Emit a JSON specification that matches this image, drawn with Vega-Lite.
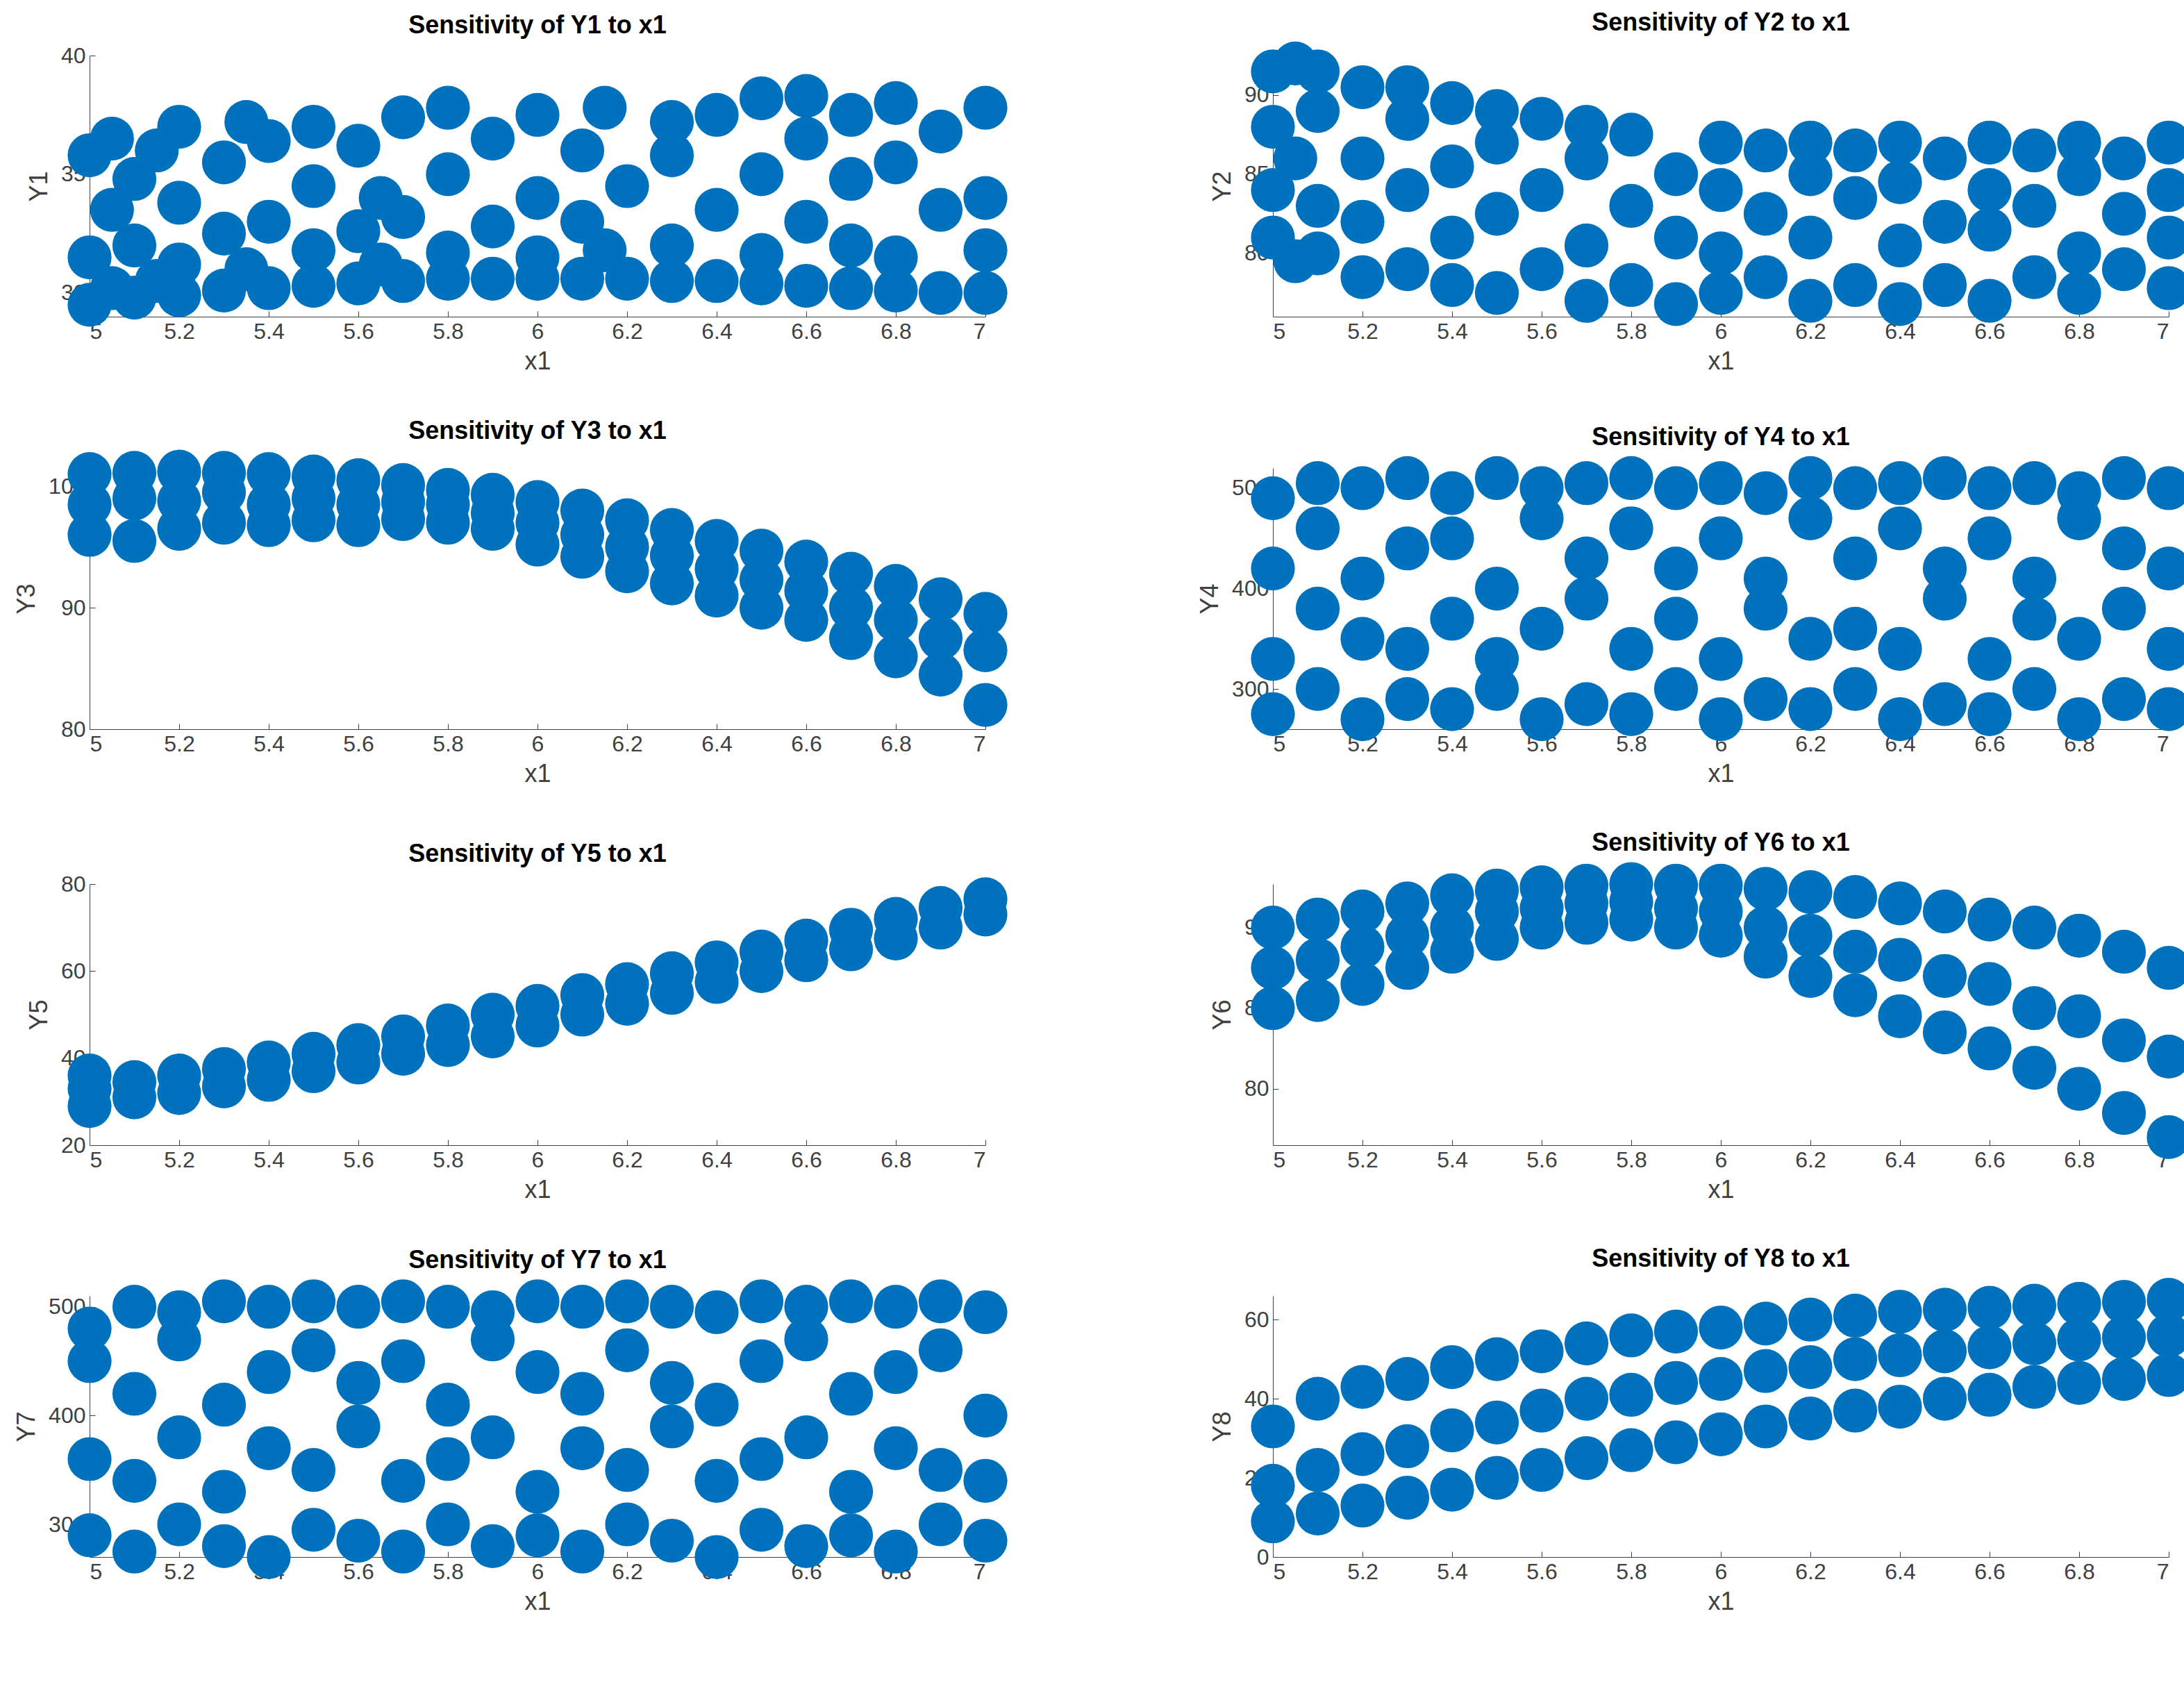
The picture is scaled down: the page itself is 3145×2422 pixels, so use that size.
{
  "$schema": "https://vega.github.io/schema/vega-lite/v6.json",
  "background": "white",
  "padding": {"left": 20, "top": 14, "right": 20, "bottom": 10},
  "columns": 2,
  "spacing": {"column": 273, "row": 64},
  "data": {"values": [
    {"p":"Y1","x":5.0,"y":29.5},{"p":"Y1","x":5.0,"y":31.5},{"p":"Y1","x":5.0,"y":35.8},
    {"p":"Y1","x":5.05,"y":30.2},{"p":"Y1","x":5.05,"y":33.5},{"p":"Y1","x":5.05,"y":36.5},
    {"p":"Y1","x":5.1,"y":29.8},{"p":"Y1","x":5.1,"y":32},{"p":"Y1","x":5.1,"y":34.8},
    {"p":"Y1","x":5.15,"y":30.5},{"p":"Y1","x":5.15,"y":36},
    {"p":"Y1","x":5.2,"y":29.9},{"p":"Y1","x":5.2,"y":31.2},{"p":"Y1","x":5.2,"y":33.8},{"p":"Y1","x":5.2,"y":37},
    {"p":"Y1","x":5.3,"y":30.1},{"p":"Y1","x":5.3,"y":32.5},{"p":"Y1","x":5.3,"y":35.5},
    {"p":"Y1","x":5.35,"y":31},{"p":"Y1","x":5.35,"y":37.2},
    {"p":"Y1","x":5.4,"y":30.2},{"p":"Y1","x":5.4,"y":33},{"p":"Y1","x":5.4,"y":36.4},
    {"p":"Y1","x":5.5,"y":30.3},{"p":"Y1","x":5.5,"y":31.8},{"p":"Y1","x":5.5,"y":34.5},{"p":"Y1","x":5.5,"y":37},
    {"p":"Y1","x":5.6,"y":30.4},{"p":"Y1","x":5.6,"y":32.6},{"p":"Y1","x":5.6,"y":36.2},
    {"p":"Y1","x":5.65,"y":31.2},{"p":"Y1","x":5.65,"y":34},
    {"p":"Y1","x":5.7,"y":30.5},{"p":"Y1","x":5.7,"y":33.2},{"p":"Y1","x":5.7,"y":37.4},
    {"p":"Y1","x":5.8,"y":30.6},{"p":"Y1","x":5.8,"y":31.7},{"p":"Y1","x":5.8,"y":35},{"p":"Y1","x":5.8,"y":37.8},
    {"p":"Y1","x":5.9,"y":30.6},{"p":"Y1","x":5.9,"y":32.8},{"p":"Y1","x":5.9,"y":36.5},
    {"p":"Y1","x":6.0,"y":30.6},{"p":"Y1","x":6.0,"y":31.5},{"p":"Y1","x":6.0,"y":34},{"p":"Y1","x":6.0,"y":37.5},
    {"p":"Y1","x":6.1,"y":30.6},{"p":"Y1","x":6.1,"y":33},{"p":"Y1","x":6.1,"y":36},
    {"p":"Y1","x":6.15,"y":31.8},{"p":"Y1","x":6.15,"y":37.8},
    {"p":"Y1","x":6.2,"y":30.6},{"p":"Y1","x":6.2,"y":34.5},
    {"p":"Y1","x":6.3,"y":30.5},{"p":"Y1","x":6.3,"y":32},{"p":"Y1","x":6.3,"y":35.8},{"p":"Y1","x":6.3,"y":37.2},
    {"p":"Y1","x":6.4,"y":30.5},{"p":"Y1","x":6.4,"y":33.5},{"p":"Y1","x":6.4,"y":37.5},
    {"p":"Y1","x":6.5,"y":30.4},{"p":"Y1","x":6.5,"y":31.6},{"p":"Y1","x":6.5,"y":35},{"p":"Y1","x":6.5,"y":38.2},
    {"p":"Y1","x":6.6,"y":30.3},{"p":"Y1","x":6.6,"y":33},{"p":"Y1","x":6.6,"y":36.5},{"p":"Y1","x":6.6,"y":38.3},
    {"p":"Y1","x":6.7,"y":30.2},{"p":"Y1","x":6.7,"y":32},{"p":"Y1","x":6.7,"y":34.8},{"p":"Y1","x":6.7,"y":37.5},
    {"p":"Y1","x":6.8,"y":30.1},{"p":"Y1","x":6.8,"y":31.5},{"p":"Y1","x":6.8,"y":35.5},{"p":"Y1","x":6.8,"y":38},
    {"p":"Y1","x":6.9,"y":30},{"p":"Y1","x":6.9,"y":33.5},{"p":"Y1","x":6.9,"y":36.8},
    {"p":"Y1","x":7.0,"y":30},{"p":"Y1","x":7.0,"y":31.8},{"p":"Y1","x":7.0,"y":34},{"p":"Y1","x":7.0,"y":37.8},

    {"p":"Y2","x":5.0,"y":81},{"p":"Y2","x":5.0,"y":84},{"p":"Y2","x":5.0,"y":88},{"p":"Y2","x":5.0,"y":91.5},
    {"p":"Y2","x":5.05,"y":79.5},{"p":"Y2","x":5.05,"y":86},{"p":"Y2","x":5.05,"y":92},
    {"p":"Y2","x":5.1,"y":80},{"p":"Y2","x":5.1,"y":83},{"p":"Y2","x":5.1,"y":89},{"p":"Y2","x":5.1,"y":91.5},
    {"p":"Y2","x":5.2,"y":78.5},{"p":"Y2","x":5.2,"y":82},{"p":"Y2","x":5.2,"y":86},{"p":"Y2","x":5.2,"y":90.5},
    {"p":"Y2","x":5.3,"y":79},{"p":"Y2","x":5.3,"y":84},{"p":"Y2","x":5.3,"y":88.5},{"p":"Y2","x":5.3,"y":90.5},
    {"p":"Y2","x":5.4,"y":78},{"p":"Y2","x":5.4,"y":81},{"p":"Y2","x":5.4,"y":85.5},{"p":"Y2","x":5.4,"y":89.5},
    {"p":"Y2","x":5.5,"y":77.5},{"p":"Y2","x":5.5,"y":82.5},{"p":"Y2","x":5.5,"y":87},{"p":"Y2","x":5.5,"y":89},
    {"p":"Y2","x":5.6,"y":79},{"p":"Y2","x":5.6,"y":84},{"p":"Y2","x":5.6,"y":88.5},
    {"p":"Y2","x":5.7,"y":77},{"p":"Y2","x":5.7,"y":80.5},{"p":"Y2","x":5.7,"y":86},{"p":"Y2","x":5.7,"y":88},
    {"p":"Y2","x":5.8,"y":78},{"p":"Y2","x":5.8,"y":83},{"p":"Y2","x":5.8,"y":87.5},
    {"p":"Y2","x":5.9,"y":76.8},{"p":"Y2","x":5.9,"y":81},{"p":"Y2","x":5.9,"y":85},
    {"p":"Y2","x":6.0,"y":77.5},{"p":"Y2","x":6.0,"y":80},{"p":"Y2","x":6.0,"y":84},{"p":"Y2","x":6.0,"y":87},
    {"p":"Y2","x":6.1,"y":78.5},{"p":"Y2","x":6.1,"y":82.5},{"p":"Y2","x":6.1,"y":86.5},
    {"p":"Y2","x":6.2,"y":77},{"p":"Y2","x":6.2,"y":81},{"p":"Y2","x":6.2,"y":85},{"p":"Y2","x":6.2,"y":87},
    {"p":"Y2","x":6.3,"y":78},{"p":"Y2","x":6.3,"y":83.5},{"p":"Y2","x":6.3,"y":86.5},
    {"p":"Y2","x":6.4,"y":76.8},{"p":"Y2","x":6.4,"y":80.5},{"p":"Y2","x":6.4,"y":84.5},{"p":"Y2","x":6.4,"y":87},
    {"p":"Y2","x":6.5,"y":78},{"p":"Y2","x":6.5,"y":82},{"p":"Y2","x":6.5,"y":86},
    {"p":"Y2","x":6.6,"y":77},{"p":"Y2","x":6.6,"y":81.5},{"p":"Y2","x":6.6,"y":84},{"p":"Y2","x":6.6,"y":87},
    {"p":"Y2","x":6.7,"y":78.5},{"p":"Y2","x":6.7,"y":83},{"p":"Y2","x":6.7,"y":86.5},
    {"p":"Y2","x":6.8,"y":77.5},{"p":"Y2","x":6.8,"y":80},{"p":"Y2","x":6.8,"y":85},{"p":"Y2","x":6.8,"y":87},
    {"p":"Y2","x":6.9,"y":79},{"p":"Y2","x":6.9,"y":82.5},{"p":"Y2","x":6.9,"y":86},
    {"p":"Y2","x":7.0,"y":77.8},{"p":"Y2","x":7.0,"y":81},{"p":"Y2","x":7.0,"y":84},{"p":"Y2","x":7.0,"y":87},

    {"p":"Y3","x":5.0,"y":101},{"p":"Y3","x":5.0,"y":98.5},{"p":"Y3","x":5.0,"y":96},
    {"p":"Y3","x":5.1,"y":101.1},{"p":"Y3","x":5.1,"y":99},{"p":"Y3","x":5.1,"y":95.5},
    {"p":"Y3","x":5.2,"y":101.2},{"p":"Y3","x":5.2,"y":98.8},{"p":"Y3","x":5.2,"y":96.5},
    {"p":"Y3","x":5.3,"y":101.1},{"p":"Y3","x":5.3,"y":99.5},{"p":"Y3","x":5.3,"y":97},
    {"p":"Y3","x":5.4,"y":101},{"p":"Y3","x":5.4,"y":98.5},{"p":"Y3","x":5.4,"y":96.8},
    {"p":"Y3","x":5.5,"y":100.8},{"p":"Y3","x":5.5,"y":99},{"p":"Y3","x":5.5,"y":97.2},
    {"p":"Y3","x":5.6,"y":100.5},{"p":"Y3","x":5.6,"y":98.5},{"p":"Y3","x":5.6,"y":96.8},
    {"p":"Y3","x":5.7,"y":100.1},{"p":"Y3","x":5.7,"y":98.7},{"p":"Y3","x":5.7,"y":97.3},
    {"p":"Y3","x":5.8,"y":99.7},{"p":"Y3","x":5.8,"y":98.5},{"p":"Y3","x":5.8,"y":97},
    {"p":"Y3","x":5.9,"y":99.3},{"p":"Y3","x":5.9,"y":97.8},{"p":"Y3","x":5.9,"y":96.5},
    {"p":"Y3","x":6.0,"y":98.7},{"p":"Y3","x":6.0,"y":97},{"p":"Y3","x":6.0,"y":95.2},
    {"p":"Y3","x":6.1,"y":98},{"p":"Y3","x":6.1,"y":96},{"p":"Y3","x":6.1,"y":94.2},
    {"p":"Y3","x":6.2,"y":97.2},{"p":"Y3","x":6.2,"y":95},{"p":"Y3","x":6.2,"y":93},
    {"p":"Y3","x":6.3,"y":96.4},{"p":"Y3","x":6.3,"y":94.3},{"p":"Y3","x":6.3,"y":92},
    {"p":"Y3","x":6.4,"y":95.5},{"p":"Y3","x":6.4,"y":93.2},{"p":"Y3","x":6.4,"y":91},
    {"p":"Y3","x":6.5,"y":94.7},{"p":"Y3","x":6.5,"y":92.3},{"p":"Y3","x":6.5,"y":90},
    {"p":"Y3","x":6.6,"y":93.8},{"p":"Y3","x":6.6,"y":91.4},{"p":"Y3","x":6.6,"y":89},
    {"p":"Y3","x":6.7,"y":92.8},{"p":"Y3","x":6.7,"y":90},{"p":"Y3","x":6.7,"y":87.5},
    {"p":"Y3","x":6.8,"y":91.8},{"p":"Y3","x":6.8,"y":89},{"p":"Y3","x":6.8,"y":86},
    {"p":"Y3","x":6.9,"y":90.7},{"p":"Y3","x":6.9,"y":87.5},{"p":"Y3","x":6.9,"y":84.5},
    {"p":"Y3","x":7.0,"y":89.5},{"p":"Y3","x":7.0,"y":86.5},{"p":"Y3","x":7.0,"y":82},

    {"p":"Y4","x":5.0,"y":275},{"p":"Y4","x":5.0,"y":330},{"p":"Y4","x":5.0,"y":420},{"p":"Y4","x":5.0,"y":490},
    {"p":"Y4","x":5.1,"y":300},{"p":"Y4","x":5.1,"y":380},{"p":"Y4","x":5.1,"y":460},{"p":"Y4","x":5.1,"y":505},
    {"p":"Y4","x":5.2,"y":270},{"p":"Y4","x":5.2,"y":350},{"p":"Y4","x":5.2,"y":410},{"p":"Y4","x":5.2,"y":500},
    {"p":"Y4","x":5.3,"y":290},{"p":"Y4","x":5.3,"y":340},{"p":"Y4","x":5.3,"y":440},{"p":"Y4","x":5.3,"y":510},
    {"p":"Y4","x":5.4,"y":280},{"p":"Y4","x":5.4,"y":370},{"p":"Y4","x":5.4,"y":450},{"p":"Y4","x":5.4,"y":495},
    {"p":"Y4","x":5.5,"y":300},{"p":"Y4","x":5.5,"y":330},{"p":"Y4","x":5.5,"y":400},{"p":"Y4","x":5.5,"y":510},
    {"p":"Y4","x":5.6,"y":270},{"p":"Y4","x":5.6,"y":360},{"p":"Y4","x":5.6,"y":470},{"p":"Y4","x":5.6,"y":500},
    {"p":"Y4","x":5.7,"y":285},{"p":"Y4","x":5.7,"y":390},{"p":"Y4","x":5.7,"y":430},{"p":"Y4","x":5.7,"y":505},
    {"p":"Y4","x":5.8,"y":275},{"p":"Y4","x":5.8,"y":340},{"p":"Y4","x":5.8,"y":460},{"p":"Y4","x":5.8,"y":510},
    {"p":"Y4","x":5.9,"y":300},{"p":"Y4","x":5.9,"y":370},{"p":"Y4","x":5.9,"y":420},{"p":"Y4","x":5.9,"y":500},
    {"p":"Y4","x":6.0,"y":270},{"p":"Y4","x":6.0,"y":330},{"p":"Y4","x":6.0,"y":450},{"p":"Y4","x":6.0,"y":505},
    {"p":"Y4","x":6.1,"y":290},{"p":"Y4","x":6.1,"y":380},{"p":"Y4","x":6.1,"y":410},{"p":"Y4","x":6.1,"y":495},
    {"p":"Y4","x":6.2,"y":280},{"p":"Y4","x":6.2,"y":350},{"p":"Y4","x":6.2,"y":470},{"p":"Y4","x":6.2,"y":510},
    {"p":"Y4","x":6.3,"y":300},{"p":"Y4","x":6.3,"y":360},{"p":"Y4","x":6.3,"y":430},{"p":"Y4","x":6.3,"y":500},
    {"p":"Y4","x":6.4,"y":270},{"p":"Y4","x":6.4,"y":340},{"p":"Y4","x":6.4,"y":460},{"p":"Y4","x":6.4,"y":505},
    {"p":"Y4","x":6.5,"y":285},{"p":"Y4","x":6.5,"y":390},{"p":"Y4","x":6.5,"y":420},{"p":"Y4","x":6.5,"y":510},
    {"p":"Y4","x":6.6,"y":275},{"p":"Y4","x":6.6,"y":330},{"p":"Y4","x":6.6,"y":450},{"p":"Y4","x":6.6,"y":500},
    {"p":"Y4","x":6.7,"y":300},{"p":"Y4","x":6.7,"y":370},{"p":"Y4","x":6.7,"y":410},{"p":"Y4","x":6.7,"y":505},
    {"p":"Y4","x":6.8,"y":270},{"p":"Y4","x":6.8,"y":350},{"p":"Y4","x":6.8,"y":470},{"p":"Y4","x":6.8,"y":495},
    {"p":"Y4","x":6.9,"y":290},{"p":"Y4","x":6.9,"y":380},{"p":"Y4","x":6.9,"y":440},{"p":"Y4","x":6.9,"y":510},
    {"p":"Y4","x":7.0,"y":280},{"p":"Y4","x":7.0,"y":340},{"p":"Y4","x":7.0,"y":420},{"p":"Y4","x":7.0,"y":500},

    {"p":"Y5","x":5.0,"y":29},{"p":"Y5","x":5.0,"y":33},{"p":"Y5","x":5.0,"y":36},
    {"p":"Y5","x":5.1,"y":31},{"p":"Y5","x":5.1,"y":34.5},
    {"p":"Y5","x":5.2,"y":32},{"p":"Y5","x":5.2,"y":36},
    {"p":"Y5","x":5.3,"y":33.5},{"p":"Y5","x":5.3,"y":37.5},
    {"p":"Y5","x":5.4,"y":35},{"p":"Y5","x":5.4,"y":39},
    {"p":"Y5","x":5.5,"y":37},{"p":"Y5","x":5.5,"y":41},
    {"p":"Y5","x":5.6,"y":39},{"p":"Y5","x":5.6,"y":43},
    {"p":"Y5","x":5.7,"y":41},{"p":"Y5","x":5.7,"y":45},
    {"p":"Y5","x":5.8,"y":43},{"p":"Y5","x":5.8,"y":47.5},
    {"p":"Y5","x":5.9,"y":45},{"p":"Y5","x":5.9,"y":50},
    {"p":"Y5","x":6.0,"y":47.5},{"p":"Y5","x":6.0,"y":52},
    {"p":"Y5","x":6.1,"y":50},{"p":"Y5","x":6.1,"y":54.5},
    {"p":"Y5","x":6.2,"y":52.5},{"p":"Y5","x":6.2,"y":57},
    {"p":"Y5","x":6.3,"y":55},{"p":"Y5","x":6.3,"y":59.5},
    {"p":"Y5","x":6.4,"y":57.5},{"p":"Y5","x":6.4,"y":62},
    {"p":"Y5","x":6.5,"y":60},{"p":"Y5","x":6.5,"y":64.5},
    {"p":"Y5","x":6.6,"y":62.5},{"p":"Y5","x":6.6,"y":67},
    {"p":"Y5","x":6.7,"y":65},{"p":"Y5","x":6.7,"y":69.5},
    {"p":"Y5","x":6.8,"y":67.5},{"p":"Y5","x":6.8,"y":72},
    {"p":"Y5","x":6.9,"y":70},{"p":"Y5","x":6.9,"y":74.5},
    {"p":"Y5","x":7.0,"y":73},{"p":"Y5","x":7.0,"y":76.5},

    {"p":"Y6","x":5.0,"y":90},{"p":"Y6","x":5.0,"y":87.5},{"p":"Y6","x":5.0,"y":85},
    {"p":"Y6","x":5.1,"y":90.5},{"p":"Y6","x":5.1,"y":88},{"p":"Y6","x":5.1,"y":85.5},
    {"p":"Y6","x":5.2,"y":91},{"p":"Y6","x":5.2,"y":88.8},{"p":"Y6","x":5.2,"y":86.5},
    {"p":"Y6","x":5.3,"y":91.5},{"p":"Y6","x":5.3,"y":89.5},{"p":"Y6","x":5.3,"y":87.5},
    {"p":"Y6","x":5.4,"y":92},{"p":"Y6","x":5.4,"y":90},{"p":"Y6","x":5.4,"y":88.5},
    {"p":"Y6","x":5.5,"y":92.3},{"p":"Y6","x":5.5,"y":91},{"p":"Y6","x":5.5,"y":89.3},
    {"p":"Y6","x":5.6,"y":92.5},{"p":"Y6","x":5.6,"y":91.2},{"p":"Y6","x":5.6,"y":90},
    {"p":"Y6","x":5.7,"y":92.6},{"p":"Y6","x":5.7,"y":91.5},{"p":"Y6","x":5.7,"y":90.3},
    {"p":"Y6","x":5.8,"y":92.7},{"p":"Y6","x":5.8,"y":91.6},{"p":"Y6","x":5.8,"y":90.5},
    {"p":"Y6","x":5.9,"y":92.6},{"p":"Y6","x":5.9,"y":91.2},{"p":"Y6","x":5.9,"y":90},
    {"p":"Y6","x":6.0,"y":92.6},{"p":"Y6","x":6.0,"y":91},{"p":"Y6","x":6.0,"y":89.5},
    {"p":"Y6","x":6.1,"y":92.4},{"p":"Y6","x":6.1,"y":90},{"p":"Y6","x":6.1,"y":88.2},
    {"p":"Y6","x":6.2,"y":92.2},{"p":"Y6","x":6.2,"y":89.5},{"p":"Y6","x":6.2,"y":87},
    {"p":"Y6","x":6.3,"y":91.9},{"p":"Y6","x":6.3,"y":88.5},{"p":"Y6","x":6.3,"y":85.8},
    {"p":"Y6","x":6.4,"y":91.5},{"p":"Y6","x":6.4,"y":88},{"p":"Y6","x":6.4,"y":84.5},
    {"p":"Y6","x":6.5,"y":91},{"p":"Y6","x":6.5,"y":87},{"p":"Y6","x":6.5,"y":83.5},
    {"p":"Y6","x":6.6,"y":90.5},{"p":"Y6","x":6.6,"y":86.5},{"p":"Y6","x":6.6,"y":82.5},
    {"p":"Y6","x":6.7,"y":90},{"p":"Y6","x":6.7,"y":85},{"p":"Y6","x":6.7,"y":81.3},
    {"p":"Y6","x":6.8,"y":89.5},{"p":"Y6","x":6.8,"y":84.5},{"p":"Y6","x":6.8,"y":80},
    {"p":"Y6","x":6.9,"y":88.5},{"p":"Y6","x":6.9,"y":83},{"p":"Y6","x":6.9,"y":78.5},
    {"p":"Y6","x":7.0,"y":87.5},{"p":"Y6","x":7.0,"y":82},{"p":"Y6","x":7.0,"y":77},

    {"p":"Y7","x":5.0,"y":290},{"p":"Y7","x":5.0,"y":360},{"p":"Y7","x":5.0,"y":450},{"p":"Y7","x":5.0,"y":480},
    {"p":"Y7","x":5.1,"y":275},{"p":"Y7","x":5.1,"y":340},{"p":"Y7","x":5.1,"y":420},{"p":"Y7","x":5.1,"y":500},
    {"p":"Y7","x":5.2,"y":300},{"p":"Y7","x":5.2,"y":380},{"p":"Y7","x":5.2,"y":470},{"p":"Y7","x":5.2,"y":495},
    {"p":"Y7","x":5.3,"y":280},{"p":"Y7","x":5.3,"y":330},{"p":"Y7","x":5.3,"y":410},{"p":"Y7","x":5.3,"y":505},
    {"p":"Y7","x":5.4,"y":270},{"p":"Y7","x":5.4,"y":370},{"p":"Y7","x":5.4,"y":440},{"p":"Y7","x":5.4,"y":500},
    {"p":"Y7","x":5.5,"y":295},{"p":"Y7","x":5.5,"y":350},{"p":"Y7","x":5.5,"y":460},{"p":"Y7","x":5.5,"y":505},
    {"p":"Y7","x":5.6,"y":285},{"p":"Y7","x":5.6,"y":390},{"p":"Y7","x":5.6,"y":430},{"p":"Y7","x":5.6,"y":500},
    {"p":"Y7","x":5.7,"y":275},{"p":"Y7","x":5.7,"y":340},{"p":"Y7","x":5.7,"y":450},{"p":"Y7","x":5.7,"y":505},
    {"p":"Y7","x":5.8,"y":300},{"p":"Y7","x":5.8,"y":360},{"p":"Y7","x":5.8,"y":410},{"p":"Y7","x":5.8,"y":500},
    {"p":"Y7","x":5.9,"y":280},{"p":"Y7","x":5.9,"y":380},{"p":"Y7","x":5.9,"y":470},{"p":"Y7","x":5.9,"y":495},
    {"p":"Y7","x":6.0,"y":290},{"p":"Y7","x":6.0,"y":330},{"p":"Y7","x":6.0,"y":440},{"p":"Y7","x":6.0,"y":505},
    {"p":"Y7","x":6.1,"y":275},{"p":"Y7","x":6.1,"y":370},{"p":"Y7","x":6.1,"y":420},{"p":"Y7","x":6.1,"y":500},
    {"p":"Y7","x":6.2,"y":300},{"p":"Y7","x":6.2,"y":350},{"p":"Y7","x":6.2,"y":460},{"p":"Y7","x":6.2,"y":505},
    {"p":"Y7","x":6.3,"y":285},{"p":"Y7","x":6.3,"y":390},{"p":"Y7","x":6.3,"y":430},{"p":"Y7","x":6.3,"y":500},
    {"p":"Y7","x":6.4,"y":270},{"p":"Y7","x":6.4,"y":340},{"p":"Y7","x":6.4,"y":410},{"p":"Y7","x":6.4,"y":495},
    {"p":"Y7","x":6.5,"y":295},{"p":"Y7","x":6.5,"y":360},{"p":"Y7","x":6.5,"y":450},{"p":"Y7","x":6.5,"y":505},
    {"p":"Y7","x":6.6,"y":280},{"p":"Y7","x":6.6,"y":380},{"p":"Y7","x":6.6,"y":470},{"p":"Y7","x":6.6,"y":500},
    {"p":"Y7","x":6.7,"y":290},{"p":"Y7","x":6.7,"y":330},{"p":"Y7","x":6.7,"y":420},{"p":"Y7","x":6.7,"y":505},
    {"p":"Y7","x":6.8,"y":275},{"p":"Y7","x":6.8,"y":370},{"p":"Y7","x":6.8,"y":440},{"p":"Y7","x":6.8,"y":500},
    {"p":"Y7","x":6.9,"y":300},{"p":"Y7","x":6.9,"y":350},{"p":"Y7","x":6.9,"y":460},{"p":"Y7","x":6.9,"y":505},
    {"p":"Y7","x":7.0,"y":285},{"p":"Y7","x":7.0,"y":340},{"p":"Y7","x":7.0,"y":400},{"p":"Y7","x":7.0,"y":495},

    {"p":"Y8","x":5.0,"y":9},{"p":"Y8","x":5.0,"y":18},{"p":"Y8","x":5.0,"y":33},
    {"p":"Y8","x":5.1,"y":11},{"p":"Y8","x":5.1,"y":22},{"p":"Y8","x":5.1,"y":40},
    {"p":"Y8","x":5.2,"y":13},{"p":"Y8","x":5.2,"y":26},{"p":"Y8","x":5.2,"y":43},
    {"p":"Y8","x":5.3,"y":15},{"p":"Y8","x":5.3,"y":28},{"p":"Y8","x":5.3,"y":45},
    {"p":"Y8","x":5.4,"y":17},{"p":"Y8","x":5.4,"y":32},{"p":"Y8","x":5.4,"y":48},
    {"p":"Y8","x":5.5,"y":20},{"p":"Y8","x":5.5,"y":34},{"p":"Y8","x":5.5,"y":50},
    {"p":"Y8","x":5.6,"y":22},{"p":"Y8","x":5.6,"y":37},{"p":"Y8","x":5.6,"y":52},
    {"p":"Y8","x":5.7,"y":25},{"p":"Y8","x":5.7,"y":40},{"p":"Y8","x":5.7,"y":54},
    {"p":"Y8","x":5.8,"y":27},{"p":"Y8","x":5.8,"y":41},{"p":"Y8","x":5.8,"y":56},
    {"p":"Y8","x":5.9,"y":29},{"p":"Y8","x":5.9,"y":44},{"p":"Y8","x":5.9,"y":57},
    {"p":"Y8","x":6.0,"y":31},{"p":"Y8","x":6.0,"y":45},{"p":"Y8","x":6.0,"y":58},
    {"p":"Y8","x":6.1,"y":33},{"p":"Y8","x":6.1,"y":47},{"p":"Y8","x":6.1,"y":59},
    {"p":"Y8","x":6.2,"y":35},{"p":"Y8","x":6.2,"y":48},{"p":"Y8","x":6.2,"y":60},
    {"p":"Y8","x":6.3,"y":37},{"p":"Y8","x":6.3,"y":50},{"p":"Y8","x":6.3,"y":61},
    {"p":"Y8","x":6.4,"y":38},{"p":"Y8","x":6.4,"y":51},{"p":"Y8","x":6.4,"y":62},
    {"p":"Y8","x":6.5,"y":40},{"p":"Y8","x":6.5,"y":52},{"p":"Y8","x":6.5,"y":62.5},
    {"p":"Y8","x":6.6,"y":41},{"p":"Y8","x":6.6,"y":53},{"p":"Y8","x":6.6,"y":63},
    {"p":"Y8","x":6.7,"y":43},{"p":"Y8","x":6.7,"y":54},{"p":"Y8","x":6.7,"y":63.5},
    {"p":"Y8","x":6.8,"y":44},{"p":"Y8","x":6.8,"y":55},{"p":"Y8","x":6.8,"y":64},
    {"p":"Y8","x":6.9,"y":45},{"p":"Y8","x":6.9,"y":55.5},{"p":"Y8","x":6.9,"y":64.5},
    {"p":"Y8","x":7.0,"y":46},{"p":"Y8","x":7.0,"y":56},{"p":"Y8","x":7.0,"y":65}
  ]},
  "concat": [
    {"title": "Sensitivity of Y1 to x1", "width": 1290, "height": 376,
     "transform": [{"filter": "datum.p == 'Y1'"}],
     "mark": {"type": "circle", "size": 4000, "opacity": 1, "color": "#0072BD"},
     "encoding": {
       "x": {"field": "x", "type": "quantitative", "title": "x1", "scale": {"domain": [5, 7]}, "axis": {"values": [5,5.2,5.4,5.6,5.8,6,6.2,6.4,6.6,6.8,7], "format": ".1~f"}},
       "y": {"field": "y", "type": "quantitative", "title": "Y1", "scale": {"domain": [29, 40]}, "axis": {"values": [30,35,40]}}}},
    {"title": "Sensitivity of Y2 to x1", "width": 1290, "height": 376,
     "transform": [{"filter": "datum.p == 'Y2'"}],
     "mark": {"type": "circle", "size": 4000, "opacity": 1, "color": "#0072BD"},
     "encoding": {
       "x": {"field": "x", "type": "quantitative", "title": "x1", "scale": {"domain": [5, 7]}, "axis": {"values": [5,5.2,5.4,5.6,5.8,6,6.2,6.4,6.6,6.8,7], "format": ".1~f"}},
       "y": {"field": "y", "type": "quantitative", "title": "Y2", "scale": {"domain": [76, 92.5]}, "axis": {"values": [80,85,90]}}}},
    {"title": "Sensitivity of Y3 to x1", "width": 1290, "height": 376,
     "transform": [{"filter": "datum.p == 'Y3'"}],
     "mark": {"type": "circle", "size": 4000, "opacity": 1, "color": "#0072BD"},
     "encoding": {
       "x": {"field": "x", "type": "quantitative", "title": "x1", "scale": {"domain": [5, 7]}, "axis": {"values": [5,5.2,5.4,5.6,5.8,6,6.2,6.4,6.6,6.8,7], "format": ".1~f"}},
       "y": {"field": "y", "type": "quantitative", "title": "Y3", "scale": {"domain": [80, 101.5]}, "axis": {"values": [80,90,100]}}}},
    {"title": "Sensitivity of Y4 to x1", "width": 1290, "height": 376,
     "transform": [{"filter": "datum.p == 'Y4'"}],
     "mark": {"type": "circle", "size": 4000, "opacity": 1, "color": "#0072BD"},
     "encoding": {
       "x": {"field": "x", "type": "quantitative", "title": "x1", "scale": {"domain": [5, 7]}, "axis": {"values": [5,5.2,5.4,5.6,5.8,6,6.2,6.4,6.6,6.8,7], "format": ".1~f"}},
       "y": {"field": "y", "type": "quantitative", "title": "Y4", "scale": {"domain": [260, 520]}, "axis": {"values": [300,400,500]}}}},
    {"title": "Sensitivity of Y5 to x1", "width": 1290, "height": 376,
     "transform": [{"filter": "datum.p == 'Y5'"}],
     "mark": {"type": "circle", "size": 4000, "opacity": 1, "color": "#0072BD"},
     "encoding": {
       "x": {"field": "x", "type": "quantitative", "title": "x1", "scale": {"domain": [5, 7]}, "axis": {"values": [5,5.2,5.4,5.6,5.8,6,6.2,6.4,6.6,6.8,7], "format": ".1~f"}},
       "y": {"field": "y", "type": "quantitative", "title": "Y5", "scale": {"domain": [20, 80]}, "axis": {"values": [20,40,60,80]}}}},
    {"title": "Sensitivity of Y6 to x1", "width": 1290, "height": 376,
     "transform": [{"filter": "datum.p == 'Y6'"}],
     "mark": {"type": "circle", "size": 4000, "opacity": 1, "color": "#0072BD"},
     "encoding": {
       "x": {"field": "x", "type": "quantitative", "title": "x1", "scale": {"domain": [5, 7]}, "axis": {"values": [5,5.2,5.4,5.6,5.8,6,6.2,6.4,6.6,6.8,7], "format": ".1~f"}},
       "y": {"field": "y", "type": "quantitative", "title": "Y6", "scale": {"domain": [76.5, 92.7]}, "axis": {"values": [80,85,90]}}}},
    {"title": "Sensitivity of Y7 to x1", "width": 1290, "height": 376,
     "transform": [{"filter": "datum.p == 'Y7'"}],
     "mark": {"type": "circle", "size": 4000, "opacity": 1, "color": "#0072BD"},
     "encoding": {
       "x": {"field": "x", "type": "quantitative", "title": "x1", "scale": {"domain": [5, 7]}, "axis": {"values": [5,5.2,5.4,5.6,5.8,6,6.2,6.4,6.6,6.8,7], "format": ".1~f"}},
       "y": {"field": "y", "type": "quantitative", "title": "Y7", "scale": {"domain": [270, 510]}, "axis": {"values": [300,400,500]}}}},
    {"title": "Sensitivity of Y8 to x1", "width": 1290, "height": 376,
     "transform": [{"filter": "datum.p == 'Y8'"}],
     "mark": {"type": "circle", "size": 4000, "opacity": 1, "color": "#0072BD"},
     "encoding": {
       "x": {"field": "x", "type": "quantitative", "title": "x1", "scale": {"domain": [5, 7]}, "axis": {"values": [5,5.2,5.4,5.6,5.8,6,6.2,6.4,6.6,6.8,7], "format": ".1~f"}},
       "y": {"field": "y", "type": "quantitative", "title": "Y8", "scale": {"domain": [0, 66]}, "axis": {"values": [0,20,40,60]}}}}
  ],
  "config": {
    "font": "Liberation Sans",
    "view": {"stroke": null},
    "title": {"fontSize": 36, "fontWeight": "bold", "color": "#000000", "offset": 8, "font": "Liberation Sans"},
    "axis": {"grid": false, "domainColor": "#404040", "tickColor": "#404040", "tickSize": -8,
             "labelFontSize": 32, "labelColor": "#404040", "labelFont": "Liberation Sans",
             "titleFontSize": 36, "titleFontWeight": "normal", "titleColor": "#404040", "titleFont": "Liberation Sans",
             "labelPadding": 14},
    "axisX": {"titlePadding": 10},
    "axisY": {"titlePadding": 12}
  }
}
